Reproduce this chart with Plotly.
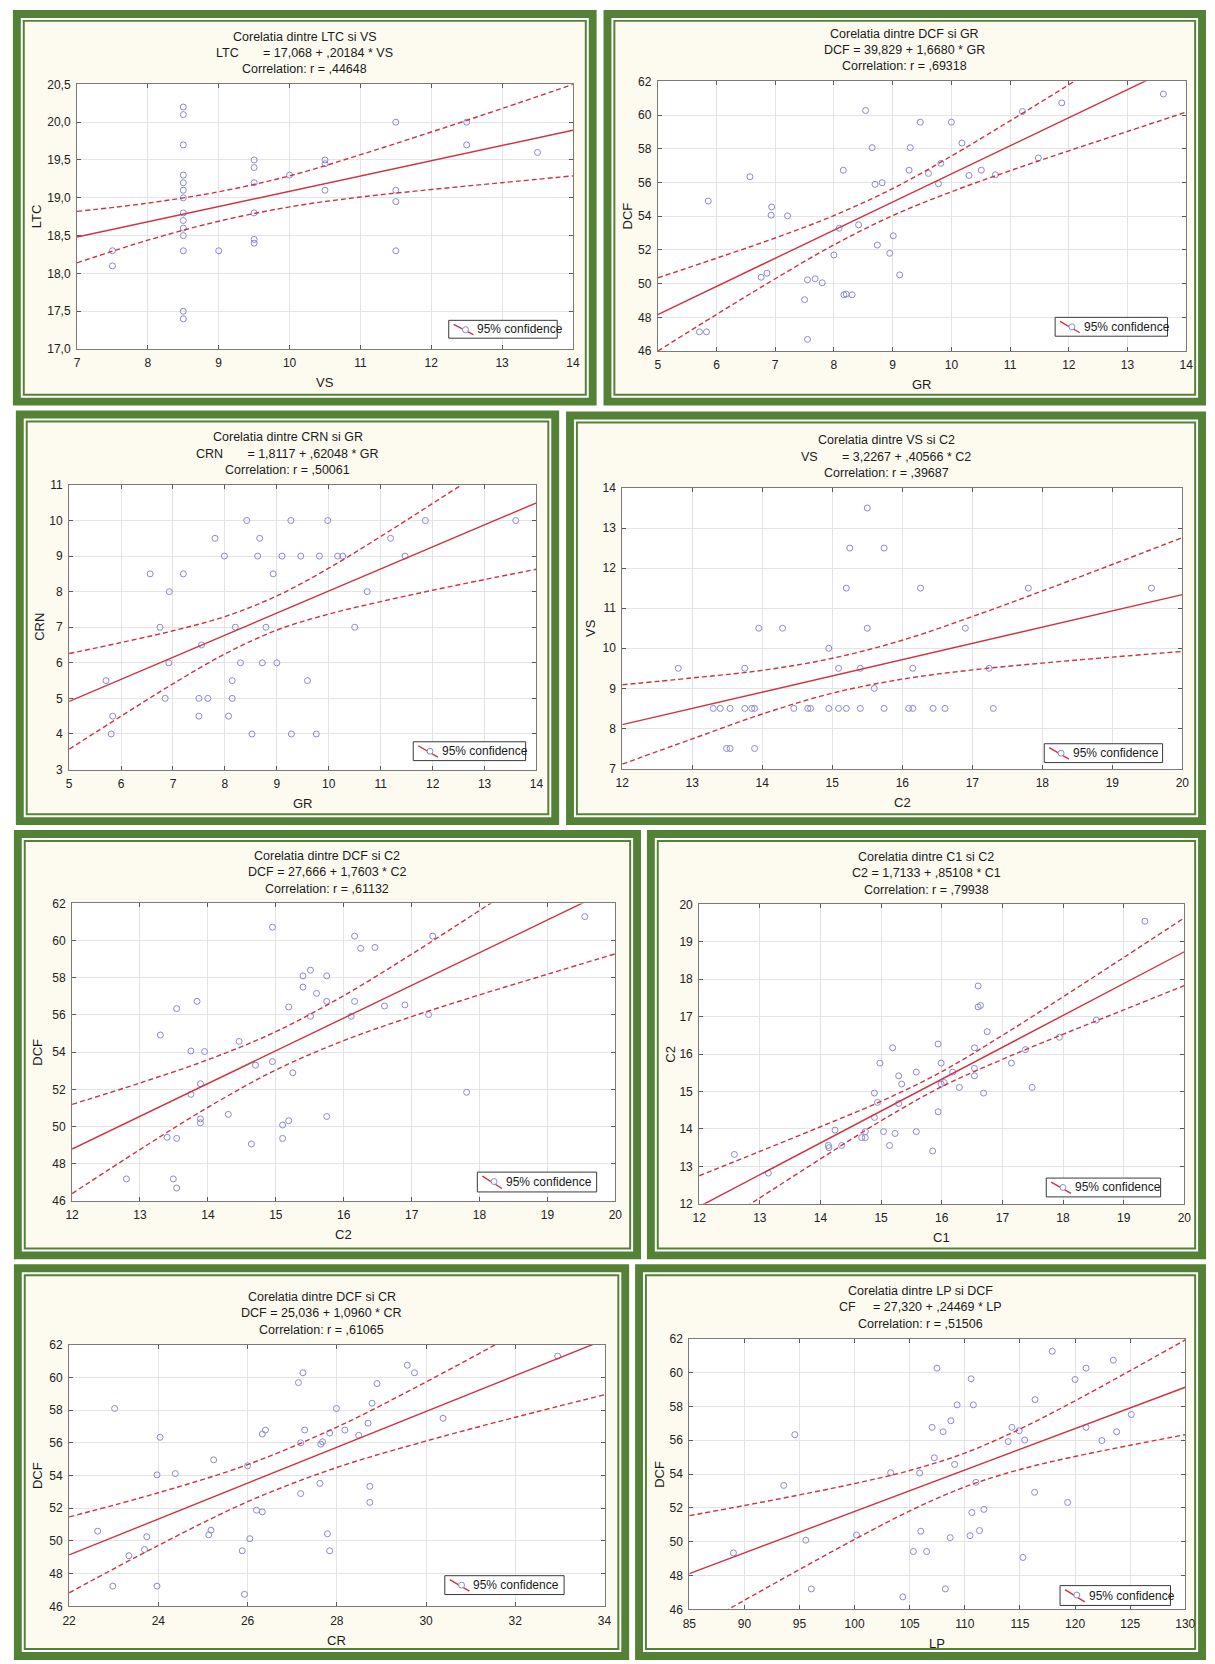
import plotly.graph_objects as go

W, H = 1215, 1664
FONT = "Liberation Sans, Arial, Helvetica, sans-serif"
GREEN = "#538237"
CREAM = "#FDFAEF"
RED = "#CF3340"
MARK = "#8A8ACF"

# ---------------- data ----------------
# Panel 1: LTC vs VS
p1_vs = [7.5, 7.5, 8.5, 8.5, 8.5, 8.5, 8.5, 8.5, 8.5, 8.5, 8.5, 8.5, 8.5, 8.5, 8.5, 8.5,
         9.0, 9.5, 9.5, 9.5, 9.5, 9.5, 9.5, 10.0, 10.5, 10.5, 10.5, 11.5, 11.5, 11.5, 11.5,
         12.5, 12.5, 13.5]
p1_ltc = [18.3, 18.1, 20.2, 20.1, 19.7, 19.3, 19.2, 19.1, 19.0, 18.8, 18.7, 18.6, 18.5, 18.3,
          17.5, 17.4, 18.3, 19.5, 19.4, 19.2, 18.8, 18.45, 18.4, 19.3, 19.5, 19.45, 19.1,
          20.0, 19.1, 18.95, 18.3, 20.0, 19.7, 19.6]
p1_band_x = [7, 8, 9, 10, 11, 12, 13, 14]
p1_band_up = [18.82, 18.93, 19.08, 19.29, 19.57, 19.87, 20.18, 20.50]
p1_band_lo = [18.14, 18.44, 18.69, 18.88, 19.01, 19.11, 19.20, 19.29]

# Panel 2: DCF vs GR
p2_gr = [5.71, 5.83, 5.86, 6.57, 6.76, 6.86, 6.93, 6.94, 7.21, 7.50, 7.55, 7.55, 7.68, 7.80,
         8.00, 8.09, 8.16, 8.17, 8.21, 8.31, 8.42, 8.54, 8.65, 8.70, 8.74, 8.82, 8.95, 9.01,
         9.12, 9.28, 9.30, 9.47, 9.61, 9.78, 9.82, 10.00, 10.18, 10.30, 10.51, 10.75, 11.21,
         11.48, 11.88, 13.61]
p2_dcf = [47.14, 47.14, 54.90, 56.34, 50.38, 50.62, 54.06, 54.55, 54.02, 49.05, 46.69, 50.23,
          50.29, 50.05, 51.70, 53.29, 56.73, 49.34, 49.38, 49.34, 53.49, 60.27, 58.07, 55.89,
          52.29, 55.99, 51.80, 52.84, 50.52, 56.73, 58.07, 59.58, 56.54, 55.93, 57.14, 59.58,
          58.34, 56.42, 56.73, 56.46, 60.21, 57.46, 60.72, 61.25]
p2_band_x = [5, 6, 7, 8, 9, 10, 11, 12, 13, 14]
p2_band_up = [50.34, 51.51, 52.71, 54.04, 55.64, 57.57, 59.66, 61.80, 63.99, 66.18]
p2_band_lo = [46.00, 48.17, 50.29, 52.30, 54.04, 55.45, 56.70, 57.88, 59.03, 60.18]

# Panel 3: CRN vs GR
p3_gr = [5.71, 5.84, 5.81, 6.56, 6.75, 6.93, 6.92, 6.85, 7.20, 7.50, 7.50, 7.55, 7.67, 7.81,
         7.99, 8.07, 8.14, 8.14, 8.20, 8.30, 8.42, 8.52, 8.63, 8.67, 8.72, 8.79, 8.93, 9.00,
         9.10, 9.27, 9.28, 9.46, 9.59, 9.76, 9.82, 9.98, 10.17, 10.27, 10.50, 10.74, 11.19,
         11.47, 11.86, 13.60]
p3_crn = [5.5, 4.5, 4.0, 8.5, 7.0, 8.0, 6.0, 5.0, 8.5, 5.0, 4.5, 6.5, 5.0, 9.5, 9.0, 4.5, 5.5,
          5.0, 7.0, 6.0, 10.0, 4.0, 9.0, 9.5, 6.0, 7.0, 8.5, 6.0, 9.0, 10.0, 4.0, 9.0, 5.5,
          4.0, 9.0, 10.0, 9.0, 9.0, 7.0, 8.0, 9.5, 9.0, 10.0, 10.0]
p3_band_x = [5, 6, 7, 8, 9, 10, 11, 12, 13, 14]
p3_band_up = [6.26, 6.57, 6.90, 7.30, 7.88, 8.66, 9.55, 10.48, 11.42, 12.37]
p3_band_lo = [3.57, 4.50, 5.41, 6.25, 6.92, 7.37, 7.72, 8.04, 8.34, 8.63]

# Panel 4: VS vs C2
p4_c2 = [12.80, 13.30, 13.40, 13.54, 13.49, 13.54, 13.75, 13.75, 13.85, 13.89, 13.89, 13.95,
         14.29, 14.45, 14.65, 14.69, 14.95, 14.95, 15.09, 15.09, 15.20, 15.20, 15.25, 15.40,
         15.40, 15.50, 15.50, 15.60, 15.74, 15.74, 16.09, 16.15, 16.15, 16.26, 16.44, 16.61,
         16.90, 17.24, 17.30, 17.80, 19.56]
p4_vs = [9.5, 8.5, 8.5, 8.5, 7.5, 7.5, 9.5, 8.5, 8.5, 8.5, 7.5, 10.5, 10.5, 8.5, 8.5, 8.5,
         10.0, 8.5, 9.5, 8.5, 11.5, 8.5, 12.5, 9.5, 8.5, 13.5, 10.5, 9.0, 12.5, 8.5, 8.5, 8.5,
         9.5, 11.5, 8.5, 8.5, 10.5, 9.5, 8.5, 11.5, 11.5]
p4_band_x = [12, 13, 14, 15, 16, 17, 18, 19, 20]
p4_band_up = [9.09, 9.26, 9.45, 9.75, 10.20, 10.79, 11.43, 12.09, 12.76]
p4_band_lo = [7.11, 7.74, 8.36, 8.88, 9.23, 9.46, 9.63, 9.78, 9.92]

# Panel 5: DCF vs C2
p5_c2 = [12.80, 13.30, 13.40, 13.49, 13.54, 13.54, 13.54, 13.75, 13.75, 13.84, 13.89, 13.89,
         13.89, 13.95, 14.30, 14.46, 14.64, 14.70, 14.95, 15.10, 15.10, 15.19, 15.19, 15.25,
         15.40, 15.40, 15.51, 15.51, 15.60, 15.75, 15.75, 15.75, 14.95, 16.11, 16.16, 16.16,
         16.25, 16.46, 16.60, 16.90, 17.25, 17.31, 17.81, 19.55]
p5_dcf = [47.18, 54.92, 49.42, 47.18, 56.34, 49.36, 46.69, 54.06, 51.73, 56.73, 52.30, 50.41,
          50.20, 54.03, 50.65, 54.58, 49.06, 53.30, 53.49, 50.08, 49.36, 50.31, 56.43, 52.89,
          58.10, 57.50, 58.41, 55.93, 57.16, 58.10, 56.73, 50.54, 60.72, 55.93, 60.24, 56.73,
          59.58, 59.63, 56.48, 56.54, 56.02, 60.24, 51.84, 61.29]
p5_band_x = [12, 13, 14, 15, 16, 17, 18, 19, 20]
p5_band_up = [51.19, 52.34, 53.59, 55.10, 57.04, 59.27, 61.62, 64.03, 66.45]
p5_band_lo = [46.39, 48.76, 51.03, 53.04, 54.62, 55.91, 57.08, 58.19, 59.29]

# Panel 6: C2 vs C1
p6_c1 = [12.58, 13.14, 14.13, 14.14, 14.24, 14.35, 14.68, 14.74, 14.74, 14.89, 14.89, 14.94,
         14.98, 15.04, 15.14, 15.19, 15.23, 15.29, 15.29, 15.34, 15.58, 15.58, 15.85, 15.94,
         15.94, 15.99, 15.99, 16.04, 16.18, 16.29, 16.54, 16.54, 16.54, 16.60, 16.60, 16.64,
         16.69, 16.75, 17.15, 17.38, 17.49, 17.94, 18.55, 19.35]
p6_c2 = [13.32, 12.82, 13.56, 13.50, 13.97, 13.56, 13.77, 13.77, 13.93, 14.31, 14.96, 14.71,
         15.76, 13.93, 13.56, 16.17, 13.88, 15.42, 14.68, 15.20, 15.52, 13.93, 13.41, 16.27,
         14.46, 15.76, 15.20, 15.24, 15.52, 15.11, 16.17, 15.62, 15.42, 17.82, 17.26, 17.30,
         14.96, 16.60, 15.76, 16.12, 15.11, 16.45, 16.91, 19.55]
p6_band_x = [12, 13, 14, 15, 16, 17, 18, 19, 20]
p6_band_up = [12.75, 13.40, 14.06, 14.74, 15.53, 16.50, 17.53, 18.58, 19.64]
p6_band_lo = [11.11, 12.16, 13.20, 14.22, 15.13, 15.86, 16.53, 17.18, 17.83]

# Panel 7: DCF vs CR
p7_cr = [22.64, 22.98, 23.02, 23.34, 23.69, 23.74, 23.97, 23.97, 24.04, 24.38, 25.13, 25.18,
         25.24, 25.88, 25.93, 26.00, 26.05, 26.20, 26.33, 26.33, 26.40, 27.14, 27.19, 27.19,
         27.24, 27.28, 27.62, 27.64, 27.68, 27.79, 27.84, 27.84, 27.99, 28.18, 28.49, 28.70,
         28.74, 28.74, 28.79, 28.90, 29.58, 29.74, 30.38, 32.95]
p7_dcf = [50.60, 47.24, 58.10, 49.10, 49.48, 50.26, 54.04, 47.24, 56.34, 54.12, 50.38, 50.66,
          54.96, 49.40, 46.74, 54.60, 50.14, 51.88, 51.78, 56.54, 56.78, 59.68, 52.90, 56.00,
          60.28, 56.78, 53.52, 55.92, 56.06, 50.44, 49.40, 56.60, 58.10, 56.78, 56.46, 57.20,
          53.34, 52.36, 58.42, 59.62, 60.74, 60.28, 57.50, 61.30]
p7_band_x = [22, 24, 26, 28, 30, 32, 34]
p7_band_up = [51.47, 52.95, 54.67, 56.96, 59.72, 62.66, 65.66]
p7_band_lo = [46.83, 49.73, 52.40, 54.49, 56.11, 57.56, 58.94]

# Panel 8: DCF vs LP
p8_lp = [89.0, 93.57, 94.57, 95.57, 96.07, 100.17, 103.27, 104.37, 105.33, 105.9, 106.0,
         106.53, 107.03, 107.23, 107.47, 108.03, 108.23, 108.67, 108.73, 109.07, 109.30,
         110.47, 110.57, 110.63, 110.77, 111.0, 111.33, 111.73, 113.93, 114.27, 114.93,
         115.27, 115.43, 116.33, 116.37, 117.93, 119.33, 120.0, 121.0, 121.0, 122.43, 123.47,
         123.77, 125.1]
p8_dcf = [49.34, 53.33, 56.33, 50.09, 47.21, 50.40, 54.08, 46.74, 49.42, 54.06, 50.62, 49.42,
          56.76, 54.96, 60.26, 56.50, 47.21, 50.24, 57.15, 54.57, 58.09, 50.36, 59.63, 51.73,
          58.09, 53.51, 50.66, 51.91, 55.92, 56.76, 56.56, 49.07, 56.01, 52.92, 58.40, 61.26,
          52.32, 59.59, 60.26, 56.76, 55.98, 60.73, 56.50, 57.52]
p8_band_x = [85, 90, 95, 100, 105, 110, 115, 120, 125, 130]
p8_band_up = [51.54, 52.14, 52.77, 53.44, 54.21, 55.24, 56.66, 58.33, 60.11, 61.93]
p8_band_lo = [44.70, 46.54, 48.36, 50.14, 51.82, 53.24, 54.27, 55.04, 55.70, 56.33]

reg_intercepts = [17.068, 39.829, 1.8117, 3.2267, 27.666, 1.7133, 25.036, 27.320]
reg_slopes = [0.20184, 1.6680, 0.62048, 0.40566, 1.7603, 0.85108, 1.0960, 0.24469]

NB = "\u00a0"
titles = ["Corelatia dintre LTC si VS", "Corelatia dintre DCF si GR",
          "Corelatia dintre CRN si GR", "Corelatia dintre VS si C2",
          "Corelatia dintre DCF si C2", "Corelatia dintre C1 si C2",
          "Corelatia dintre DCF si CR", "Corelatia dintre LP si DCF"]
equations = ["LTC" + NB * 7 + "= 17,068 + ,20184 * VS",
             "DCF = 39,829 + 1,6680 * GR",
             "CRN" + NB * 7 + "= 1,8117 + ,62048 * GR",
             "VS" + NB * 7 + "= 3,2267 + ,40566 * C2",
             "DCF = 27,666 + 1,7603 * C2",
             "C2 = 1,7133 + ,85108 * C1",
             "DCF = 25,036 + 1,0960 * CR",
             "CF" + NB * 5 + "= 27,320 + ,24469 * LP"]
correlations = ["Correlation: r = ,44648", "Correlation: r = ,69318",
                "Correlation: r = ,50061", "Correlation: r = ,39687",
                "Correlation: r = ,61132", "Correlation: r = ,79938",
                "Correlation: r = ,61065", "Correlation: r = ,51506"]
x_labels = ["VS", "GR", "GR", "C2", "C2", "C1", "CR", "LP"]
y_labels = ["LTC", "DCF", "CRN", "VS", "DCF", "C2", "DCF", "DCF"]
x_ranges = [(7, 14), (5, 14), (5, 14), (12, 20), (12, 20), (12, 20), (22, 34), (85, 130)]
y_ranges = [(17, 20.5), (46, 62), (3, 11), (7, 14), (46, 62), (12, 20), (46, 62), (46, 62)]
x_dticks = [1, 1, 1, 1, 1, 1, 2, 5]
y_dticks = [0.5, 2, 1, 1, 2, 1, 2, 2]
legend_text = "95% confidence"

xs = [p1_vs, p2_gr, p3_gr, p4_c2, p5_c2, p6_c1, p7_cr, p8_lp]
ys = [p1_ltc, p2_dcf, p3_crn, p4_vs, p5_dcf, p6_c2, p7_dcf, p8_dcf]
bxs = [p1_band_x, p2_band_x, p3_band_x, p4_band_x, p5_band_x, p6_band_x, p7_band_x, p8_band_x]
bups = [p1_band_up, p2_band_up, p3_band_up, p4_band_up, p5_band_up, p6_band_up, p7_band_up, p8_band_up]
blos = [p1_band_lo, p2_band_lo, p3_band_lo, p4_band_lo, p5_band_lo, p6_band_lo, p7_band_lo, p8_band_lo]

# ---------------- layout (pixel positions) ----------------
frames = [(6, 3, 598, 402), (605, 3, 1216, 402),
          (9, 407, 560, 825), (567, 408, 1216, 825),
          (7, 830, 643, 1263), (649, 830, 1216, 1263),
          (7, 1268, 631, 1667), (637, 1268, 1216, 1667)]
plots = [(71, 78, 574, 345), (660, 75, 1196, 347),
         (63, 482, 537, 769), (624, 485, 1192, 768),
         (66, 904, 617, 1204), (702, 905, 1194, 1207),
         (63, 1349, 606, 1613), (692, 1343, 1195, 1616)]
legends = [(448, 316, 558, 334), (1063, 313, 1177, 332),
           (412, 741, 526, 760), (1052, 743, 1172, 762),
           (477, 1175, 598, 1195), (1054, 1181, 1170, 1200),
           (444, 1582, 565, 1601), (1068, 1592, 1180, 1612)]


def fx(v):
    return v / W


def fy(v):
    return 1 - v / H


fig = go.Figure()
shapes = []
annotations = []
layout_axes = {}

for i in range(8):
    n = i + 1
    xa = "x" if n == 1 else f"x{n}"
    ya = "y" if n == 1 else f"y{n}"
    fx0, fy0, fx1, fy1 = frames[i]
    pl, pt, pr, pb = plots[i]

    # frame: thick green, white gap, thin green, cream
    for inset, col in [(0, GREEN), (8, "white"), (10, GREEN), (12, CREAM)]:
        shapes.append(dict(type="rect", xref="paper", yref="paper", layer="below",
                           x0=fx(fx0 + inset), x1=fx(fx1 - inset),
                           y0=fy(fy1 - inset), y1=fy(fy0 + inset),
                           fillcolor=col, line=dict(width=0)))
    shapes.append(dict(type="rect", xref="paper", yref="paper", layer="below",
                       x0=fx(pl), x1=fx(pr), y0=fy(pb), y1=fy(pt),
                       fillcolor="white", line=dict(width=0)))

    # traces
    fig.add_trace(go.Scatter(x=xs[i], y=ys[i], mode="markers", xaxis=xa, yaxis=ya,
                             marker=dict(symbol="circle-open", size=6, color=MARK,
                                         line=dict(width=1, color=MARK)),
                             showlegend=False, hoverinfo="skip"))
    for band in (bups[i], blos[i]):
        fig.add_trace(go.Scatter(x=bxs[i], y=band, mode="lines", xaxis=xa, yaxis=ya,
                                 line=dict(color=RED, width=1.4, dash="5px,3px",
                                           shape="spline", smoothing=1.0),
                                 showlegend=False, hoverinfo="skip"))
    x0, x1 = x_ranges[i]
    a, b = reg_intercepts[i], reg_slopes[i]
    fig.add_trace(go.Scatter(x=[x0, x1], y=[a + b * x0, a + b * x1], mode="lines",
                             xaxis=xa, yaxis=ya, line=dict(color=RED, width=1.4),
                             showlegend=False, hoverinfo="skip"))

    common = dict(showline=True, linecolor="#7A7A7A", linewidth=1, mirror="ticks",
                  ticks="inside", ticklen=4, tickcolor="#5A5A5A", tickwidth=1,
                  showgrid=True, gridcolor="#E4E4E4", gridwidth=1, zeroline=False,
                  tickfont=dict(family=FONT, size=12, color="#222222"),
                  fixedrange=True, ticklabelstandoff=3)
    layout_axes["xaxis" if n == 1 else f"xaxis{n}"] = dict(
        domain=[fx(pl), fx(pr)], range=list(x_ranges[i]), dtick=x_dticks[i],
        tick0=x_ranges[i][0], anchor=ya, **common)
    yextra = dict(tickformat=".1f") if n == 1 else {}
    layout_axes["yaxis" if n == 1 else f"yaxis{n}"] = dict(
        domain=[fy(pb), fy(pt)], range=list(y_ranges[i]), dtick=y_dticks[i],
        tick0=y_ranges[i][0], anchor=xa, **common, **yextra)

    # titles
    cx = (fx0 + fx1) / 2
    for txt, off in [(titles[i], 48), (equations[i], 31.5), (correlations[i], 15)]:
        annotations.append(dict(text=txt, x=fx(cx), y=fy(pt - off), xref="paper",
                                yref="paper", xanchor="center", yanchor="middle",
                                showarrow=False,
                                font=dict(family=FONT, size=12.5, color="#1A1A1A")))
    # axis titles
    annotations.append(dict(text=x_labels[i], x=fx((pl + pr) / 2), y=fy(pb + 34),
                            xref="paper", yref="paper", xanchor="center",
                            yanchor="middle", showarrow=False,
                            font=dict(family=FONT, size=13, color="#1A1A1A")))
    annotations.append(dict(text=y_labels[i], x=fx(fx0 + 24), y=fy((pt + pb) / 2),
                            xref="paper", yref="paper", xanchor="center",
                            yanchor="middle", textangle=-90, showarrow=False,
                            font=dict(family=FONT, size=13, color="#1A1A1A")))

    # legend box
    lx0, ly0, lx1, ly1 = legends[i]
    shapes.append(dict(type="rect", xref="paper", yref="paper", layer="above",
                       x0=fx(lx0), x1=fx(lx1), y0=fy(ly1), y1=fy(ly0),
                       fillcolor="white", line=dict(color="#3A3A3A", width=1)))
    shapes.append(dict(type="line", xref="paper", yref="paper", layer="above",
                       x0=fx(lx0 + 5), y0=fy(ly0 + 4), x1=fx(lx0 + 25), y1=fy(ly1 - 3.5),
                       line=dict(color=RED, width=1.4)))
    shapes.append(dict(type="circle", xref="paper", yref="paper", layer="above",
                       x0=fx(lx0 + 14), x1=fx(lx0 + 20), y0=fy(ly0 + 12.5),
                       y1=fy(ly0 + 6.5), fillcolor="white",
                       line=dict(color=MARK, width=1)))
    annotations.append(dict(text=legend_text, x=fx(lx0 + 27), y=fy((ly0 + ly1) / 2),
                            xref="paper", yref="paper", xanchor="left",
                            yanchor="middle", showarrow=False,
                            font=dict(family=FONT, size=12, color="#1A1A1A")))

fig.update_layout(width=W, height=H, margin=dict(l=0, r=0, t=0, b=0, pad=0),
                  paper_bgcolor="white", plot_bgcolor="rgba(0,0,0,0)",
                  separators=", ", showlegend=False, shapes=shapes,
                  annotations=annotations, font=dict(family=FONT),
                  **layout_axes)

fig.write_html("out.html", config={"displayModeBar": False, "staticPlot": True})
